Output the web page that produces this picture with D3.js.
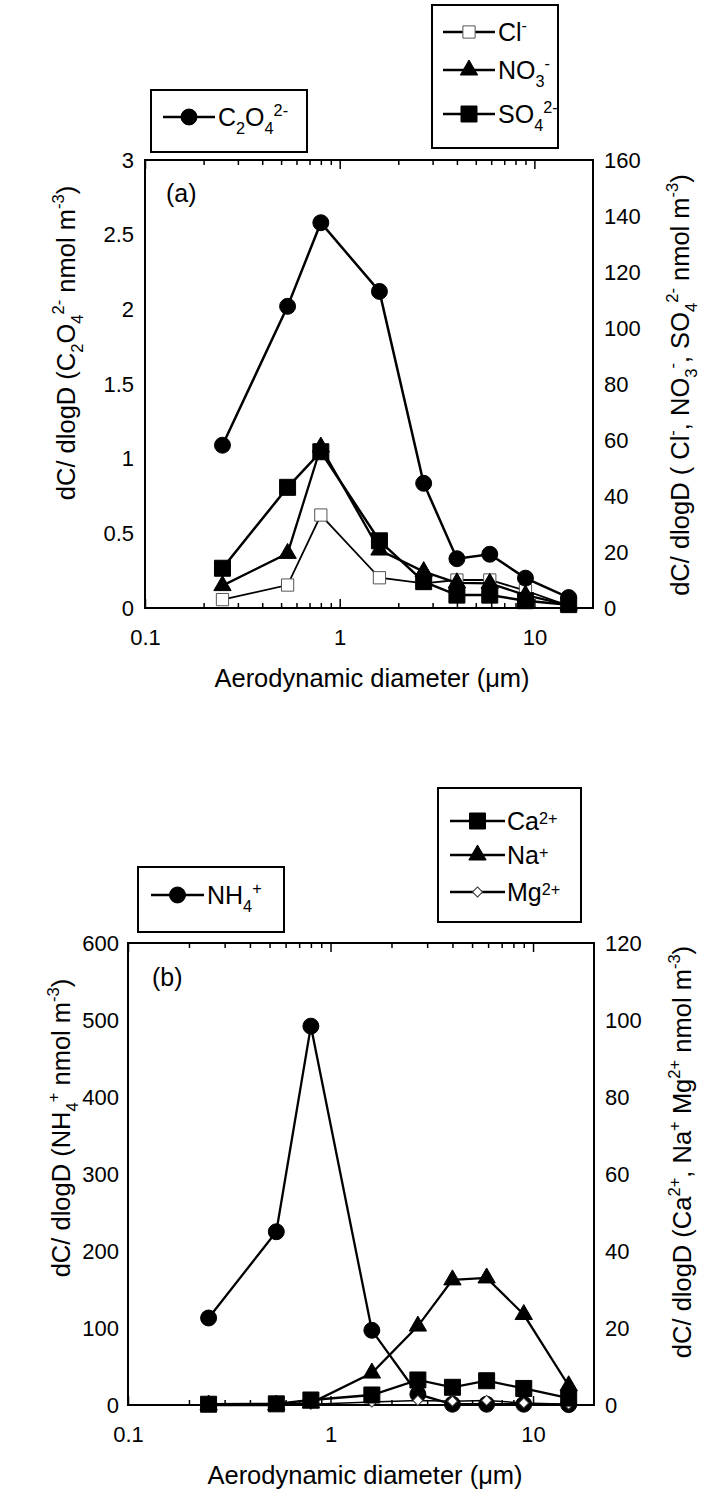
<!DOCTYPE html>
<html>
<head>
<meta charset="utf-8">
<script src="https://cdn.jsdelivr.net/npm/d3@7"></script>
<style>
  body { margin: 0; background: #fff; }
  svg { display: block; font-family: "Liberation Sans", Arial, sans-serif; }
</style>
</head>
<body>
<svg id="chart" width="704" height="1495"></svg>
<script>
// particle size (stage mid-points, um)
const diam = [0.25, 0.54, 0.8, 1.6, 2.7, 4.0, 5.9, 9.0, 15];

// panel (a)
const c2o4 = [1.09, 2.02, 2.58, 2.12, 0.835, 0.33, 0.36, 0.20, 0.07];
const cl   = [3, 8.2, 33.2, 10.8, 8.8, 10, 10, 6.2, 0.8];
const no3  = [8, 19.5, 57.5, 20.7, 13, 9, 8.8, 4.6, 1];
const so4  = [14.2, 43.1, 55.8, 24, 9.4, 4.6, 4.6, 2.6, 1.2];

// panel (b)
const nh4 = [113, 225, 492, 97, 14, 1, 1, 1, 0.5];
const mg  = [0, 0, 0.2, 0.8, 1.2, 1.0, 1.2, 0.5, 0.2];
const na  = [0, 0, 0.5, 8.3, 20.5, 32.5, 33, 23.5, 5];
const ca  = [0.2, 0.3, 1.3, 2.6, 6.5, 4.6, 6.3, 4.3, 1.8];

// ticks
const xMajor = [0.1, 1, 10];
const xMinor = [0.2, 0.3, 0.4, 0.5, 0.6, 0.7, 0.8, 0.9, 2, 3, 4, 5, 6, 7, 8, 9];
const aLeftTicks  = [0, 0.5, 1, 1.5, 2, 2.5, 3];
const aRightTicks = [0, 20, 40, 60, 80, 100, 120, 140, 160];
const bLeftTicks  = [0, 100, 200, 300, 400, 500, 600];
const bRightTicks = [0, 20, 40, 60, 80, 100, 120];

const svg = d3.select('#chart');
const FS = 22;      // tick labels
const TFS = 25.5;   // axis titles

// text with sub/superscripts: parts = [[text, mode]], mode '' | 'sub' | 'sup'
function rich(g, parts, fs, supShift) {
  let off = 0;
  parts.forEach(p => {
    const mode = p[1] || '';
    const target = mode === 'sub' ? fs * 0.3 : mode === 'sup' ? -fs * (supShift || 0.42) : 0;
    g.append('tspan')
      .attr('dy', target - off)
      .attr('font-size', mode ? fs * 0.65 : fs)
      .text(p[0]);
    off = target;
  });
  return g;
}

const shapes = {
  circle:   {type: d3.symbolCircle, size: 200, fill: '#000', stroke: '#000', sw: 1, rot: 0},
  square:   {type: d3.symbolSquare, size: 256, fill: '#000', stroke: '#000', sw: 1, rot: 0},
  triangle: {type: d3.symbolTriangle, size: 130, fill: '#000', stroke: '#000', sw: 1, rot: 0},
  open:     {type: d3.symbolSquare, size: 150, fill: '#fff', stroke: '#555', sw: 1, rot: 0},
  diamond:  {type: d3.symbolSquare, size: 50, fill: '#fff', stroke: '#333', sw: 1, rot: 45}
};

function marker(g, x, y, kind) {
  const s = shapes[kind];
  g.append('path')
    .attr('d', d3.symbol().type(s.type).size(s.size)())
    .attr('transform', 'translate(' + x + ',' + y + ') rotate(' + s.rot + ')')
    .attr('fill', s.fill)
    .attr('stroke', s.stroke)
    .attr('stroke-width', s.sw);
}

function panel(cfg) {
  const g = svg.append('g');
  const x = d3.scaleLog().domain([0.1, 20]).range([cfg.left, cfg.right]);
  const yL = d3.scaleLinear().domain([0, cfg.leftMax]).range([cfg.bottom, cfg.top]);
  const yR = d3.scaleLinear().domain([0, cfg.rightMax]).range([cfg.bottom, cfg.top]);

  // x axes (ticks pointing inwards)
  const bottom = g.append('g').attr('transform', 'translate(0,' + cfg.bottom + ')');
  bottom.append('g').call(d3.axisBottom(x).tickValues(xMinor).tickSizeInner(-5).tickSizeOuter(0).tickFormat(''));
  bottom.append('g').call(d3.axisBottom(x).tickValues(xMajor).tickSizeInner(-9).tickSizeOuter(0)
    .tickPadding(21).tickFormat(d => String(d)));
  const top = g.append('g').attr('transform', 'translate(0,' + cfg.top + ')');
  top.append('g').call(d3.axisTop(x).tickValues(xMinor).tickSizeInner(-5).tickSizeOuter(0).tickFormat(''));
  top.append('g').call(d3.axisTop(x).tickValues(xMajor).tickSizeInner(-9).tickSizeOuter(0).tickFormat(''));

  // y axes (labels only)
  g.append('g').attr('transform', 'translate(' + cfg.left + ',0)')
    .call(d3.axisLeft(yL).tickValues(cfg.leftTicks).tickSize(0).tickPadding(cfg.padL).tickFormat(d => String(d)));
  g.append('g').attr('transform', 'translate(' + cfg.right + ',0)')
    .call(d3.axisRight(yR).tickValues(cfg.rightTicks).tickSize(0).tickPadding(11).tickFormat(d => String(d)));

  g.selectAll('.domain').remove();
  g.selectAll('.tick line').attr('stroke', '#000').attr('stroke-width', 1.5);
  g.selectAll('.tick text').attr('font-size', FS).attr('font-family', '"Liberation Sans", Arial, sans-serif').attr('fill', '#000');

  // frame
  g.append('rect')
    .attr('x', cfg.left).attr('y', cfg.top)
    .attr('width', cfg.right - cfg.left).attr('height', cfg.bottom - cfg.top)
    .attr('fill', 'none').attr('stroke', '#000').attr('stroke-width', 2);

  // series
  cfg.series.forEach(s => {
    const y = s.axis === 'L' ? yL : yR;
    const pts = diam.map((d, i) => [x(d), y(s.values[i])]);
    g.append('path')
      .attr('d', d3.line()(pts))
      .attr('fill', 'none').attr('stroke', '#000').attr('stroke-width', s.lw);
    pts.forEach(p => marker(g, p[0], p[1], s.marker));
  });

  // panel tag
  g.append('text').attr('x', cfg.tag[1]).attr('y', cfg.tag[2])
    .attr('font-size', 25).text(cfg.tag[0]);

  // x title
  g.append('text')
    .attr('x', (cfg.left + cfg.right) / 2 + cfg.xTitleDx).attr('y', cfg.bottom + 79)
    .attr('text-anchor', 'middle').attr('font-size', TFS)
    .text('Aerodynamic diameter (\u03bcm)');

  // y titles
  rich(g.append('text').attr('text-anchor', 'middle')
    .attr('transform', 'translate(' + cfg.yTitleL[0] + ',' + cfg.yTitleL[1] + ') rotate(-90)'),
    cfg.yTitleL[2], TFS);
  rich(g.append('text').attr('text-anchor', 'middle')
    .attr('transform', 'translate(' + cfg.yTitleR[0] + ',' + cfg.yTitleR[1] + ') rotate(-90)'),
    cfg.yTitleR[2], TFS);

  // legends
  cfg.legends.forEach(L => {
    g.append('rect').attr('x', L.box[0]).attr('y', L.box[1])
      .attr('width', L.box[2]).attr('height', L.box[3])
      .attr('fill', '#fff').attr('stroke', '#000').attr('stroke-width', 2);
    L.items.forEach((it, i) => {
      const yy = L.rows[i];
      g.append('line').attr('x1', L.line[0]).attr('x2', L.line[1])
        .attr('y1', yy).attr('y2', yy).attr('stroke', '#000').attr('stroke-width', 2.5);
      marker(g, (L.line[0] + L.line[1]) / 2, yy, it.marker);
      rich(g.append('text').attr('x', L.textX).attr('y', yy + 9), it.label, 25, L.supShift);
    });
  });
}

panel({
  left: 145, right: 593, top: 160, bottom: 608, padL: 11,
  leftMax: 3, rightMax: 160, leftTicks: aLeftTicks, rightTicks: aRightTicks,
  tag: ['(a)', 166, 202], xTitleDx: 3,
  series: [
    {values: cl, axis: 'R', marker: 'open', lw: 1.8},
    {values: no3, axis: 'R', marker: 'triangle', lw: 2.3},
    {values: so4, axis: 'R', marker: 'square', lw: 2.5},
    {values: c2o4, axis: 'L', marker: 'circle', lw: 2.5}
  ],
  yTitleL: [75, 343, [['dC/ dlogD (C'], ['2', 'sub'], ['O'], ['4', 'sub'], ['2-', 'sup'], [' nmol m'], ['-3', 'sup'], [')']]],
  yTitleR: [689, 385, [['dC/ dlogD ( Cl'], ['-', 'sup'], [', NO'], ['3', 'sub'], ['-', 'sup'], [', SO'], ['4', 'sub'], ['2-', 'sup'], [' nmol m'], ['-3', 'sup'], [')']]],
  legends: [
    {box: [151, 90, 156, 62], rows: [117], line: [163, 215], textX: 218,
     items: [{marker: 'circle', label: [['C'], ['2', 'sub'], ['O'], ['4', 'sub'], ['2-', 'sup']]}]},
    {box: [432, 5, 126, 143], rows: [32, 70, 114], line: [443, 495], textX: 498,
     items: [
       {marker: 'open', label: [['Cl'], ['-', 'sup']]},
       {marker: 'triangle', label: [['NO'], ['3', 'sub'], ['-', 'sup']]},
       {marker: 'square', label: [['SO'], ['4', 'sub'], ['2-', 'sup']]}
     ]}
  ]
});

panel({
  left: 128, right: 594, top: 943, bottom: 1405, padL: 9,
  leftMax: 600, rightMax: 120, leftTicks: bLeftTicks, rightTicks: bRightTicks,
  tag: ['(b)', 152, 986], xTitleDx: 4,
  series: [
    {values: nh4, axis: 'L', marker: 'circle', lw: 2.3},
    {values: mg, axis: 'R', marker: 'diamond', lw: 1.5},
    {values: na, axis: 'R', marker: 'triangle', lw: 2.3},
    {values: ca, axis: 'R', marker: 'square', lw: 2.3}
  ],
  yTitleL: [70, 1128, [['dC/ dlogD (NH'], ['4', 'sub'], ['+', 'sup'], [' nmol m'], ['-3', 'sup'], [')']]],
  yTitleR: [691, 1152, [['dC/ dlogD (Ca'], ['2+', 'sup'], [', Na'], ['+', 'sup'], [' Mg'], ['2+', 'sup'], [' nmol m'], ['-3', 'sup'], [')']]],
  legends: [
    {box: [138, 867, 146, 65], rows: [895], line: [151, 204], textX: 207,
     items: [{marker: 'circle', label: [['NH'], ['4', 'sub'], ['+', 'sup']]}]},
    {box: [438, 788, 143, 134], rows: [821, 855, 892], line: [450, 505], textX: 507, supShift: 0.25,
     items: [
       {marker: 'square', label: [['Ca'], ['2+', 'sup']]},
       {marker: 'triangle', label: [['Na'], ['+', 'sup']]},
       {marker: 'diamond', label: [['Mg'], ['2+', 'sup']]}
     ]}
  ]
});
</script>
</body>
</html>
